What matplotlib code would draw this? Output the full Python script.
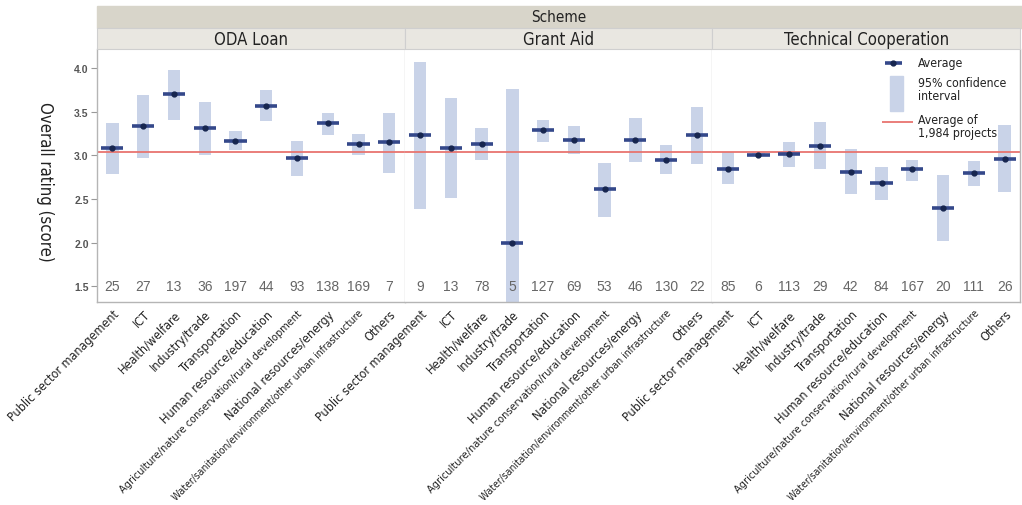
import numpy as np
import matplotlib
matplotlib.use("Agg")
import matplotlib.pyplot as plt
from matplotlib.patches import Rectangle
from matplotlib import font_manager as fm

# dane
categories = ["Public sector management", "ICT", "Health/welfare", "Industry/trade",
              "Transportation", "Human resource/education",
              "Agriculture/nature conservation/rural development",
              "National resources/energy",
              "Water/sanitation/environment/other urban infrastructure", "Others"]
schemes = ["ODA Loan", "Grant Aid", "Technical Cooperation"]

oda_avg = [3.08, 3.34, 3.70, 3.31, 3.17, 3.57, 2.97, 3.37, 3.13, 3.15]
oda_low = [2.79, 2.97, 3.41, 3.00, 3.06, 3.39, 2.77, 3.23, 3.00, 2.80]
oda_high = [3.37, 3.69, 3.98, 3.61, 3.28, 3.75, 3.16, 3.49, 3.25, 3.49]
oda_n = [25, 27, 13, 36, 197, 44, 93, 138, 169, 7]

ga_avg = [3.23, 3.08, 3.13, 2.00, 3.29, 3.18, 2.61, 3.18, 2.95, 3.23]
ga_low = [2.39, 2.51, 2.95, 1.20, 3.15, 3.02, 2.30, 2.93, 2.79, 2.90]
ga_high = [4.07, 3.66, 3.31, 3.76, 3.41, 3.34, 2.91, 3.43, 3.12, 3.56]
ga_n = [9, 13, 78, 5, 127, 69, 53, 46, 130, 22]

tc_avg = [2.85, 3.01, 3.02, 3.11, 2.81, 2.68, 2.84, 2.40, 2.80, 2.96]
tc_low = [2.67, 2.99, 2.87, 2.84, 2.56, 2.49, 2.71, 2.02, 2.65, 2.58]
tc_high = [3.04, 3.03, 3.15, 3.38, 3.07, 2.87, 2.95, 2.78, 2.94, 3.35]
tc_n = [85, 6, 113, 29, 42, 84, 167, 20, 111, 26]

overall_avg = 3.04

avgs = [oda_avg, ga_avg, tc_avg]
lows = [oda_low, ga_low, tc_low]
highs = [oda_high, ga_high, tc_high]
counts = [oda_n, ga_n, tc_n]

# rozmiary czcionek etykiet (dlugie etykiety sa sciesnione)
label_sizes = [9, 9, 9, 9, 9, 9, 7.9, 9, 7.5, 9]


# szukamy waskiej czcionki (DejaVu Sans Condensed / Liberation Sans Narrow)
def waska_czcionka():
    for f in fm.fontManager.ttflist:
        if f.name == "Liberation Sans Narrow" and f.weight in (400, "normal") and f.style == "normal":
            return f.fname
    for f in fm.fontManager.ttflist:
        if "DejaVuSansCondensed.ttf" in f.fname:
            return f.fname
    return None


fpath = waska_czcionka()


def cond(size):
    if fpath:
        return fm.FontProperties(fname=fpath, size=size)
    return fm.FontProperties(family="DejaVu Sans", stretch="condensed", size=size)


W, H = 1022, 506
fig = plt.figure(figsize=(W / 100, H / 100), dpi=100)

ci_col = "#c9d3e8"
avg_col = "#34488a"
dot_col = "#17264f"
red_col = "#e8746f"
edge_col = "#b5b5b5"

left_px, right_px = 97, 1020
top_px, bot_px = 50, 303
pw = (right_px - left_px) / 3

axes = []
for i in range(3):
    ax = fig.add_axes([(left_px + i * pw) / W, 1 - bot_px / H, pw / W, (bot_px - top_px) / H])
    x = np.arange(len(categories))
    lo = np.array(lows[i])
    hi = np.array(highs[i])
    ax.bar(x, hi - lo, bottom=lo, width=0.4, color=ci_col, zorder=1)
    ax.hlines(avgs[i], x - 0.36, x + 0.36, color=avg_col, lw=2.6, zorder=3)
    ax.plot(x, avgs[i], "o", color=dot_col, ms=3.5, zorder=4)
    ax.axhline(overall_avg, color=red_col, lw=1.3, zorder=2)
    for xi, n in zip(x, counts[i]):
        ax.text(xi, 1.5, str(n), ha="center", va="center", fontsize=10,
                color="#666666", family="Liberation Sans", zorder=5)
    ax.set_xlim(-0.5, 9.5)
    ax.set_ylim(1.32, 4.22)
    ax.set_xticks(x)
    ax.set_xticklabels(categories, rotation=45, ha="right", rotation_mode="anchor")
    for lab, fs in zip(ax.get_xticklabels(), label_sizes):
        lab.set_fontproperties(cond(fs))
        lab.set_color("#222222")
    ax.tick_params(axis="x", length=0, pad=4)
    for s in ax.spines.values():
        s.set_color(edge_col)
        s.set_linewidth(1.0)
    ax.spines["top"].set_visible(False)
    if i > 0:
        ax.set_yticks([])
        ax.spines["left"].set_visible(False)
    if i < 2:
        ax.spines["right"].set_color("#d0d0d0")
    axes.append(ax)

ax0 = axes[0]
ax0.set_yticks([1.5, 2.0, 2.5, 3.0, 3.5, 4.0])
ax0.set_yticklabels(["1.5", "2.0", "2.5", "3.0", "3.5", "4.0"],
                    family="Liberation Sans", fontweight="bold", fontsize=7.5, color="#555555")
ax0.tick_params(axis="y", length=4, color="#999999", pad=2)
fig.text(45 / W, 1 - 182 / H, "Overall rating (score)", rotation=270, ha="center", va="center",
         fontproperties=cond(12), color="#222222")

# naglowki paneli
fig.patches.append(Rectangle((left_px / W, 1 - 29 / H), (right_px + 2 - left_px) / W, 22 / H,
                             transform=fig.transFigure, color="#d8d5ca", zorder=0))
fig.text((left_px + right_px) / 2 / W, 1 - 18 / H, "Scheme", ha="center", va="center",
         fontproperties=cond(11), color="#222222")
for i, name in enumerate(schemes):
    x0 = left_px + i * pw
    fig.patches.append(Rectangle((x0 / W, 1 - top_px / H), pw / W, 21 / H,
                                 transform=fig.transFigure, facecolor="#e9e7e1",
                                 edgecolor="#cfcfcf", lw=0.8, zorder=0))
    fig.text((x0 + pw / 2) / W, 1 - 40 / H, name, ha="center", va="center",
             fontproperties=cond(12), color="#222222")

# legenda
ax2 = axes[2]
ax2.hlines(4.06, 5.1, 5.66, color=avg_col, lw=2.6, zorder=3)
ax2.plot([5.38], [4.06], "o", color=dot_col, ms=3.5, zorder=4)
ax2.add_patch(Rectangle((5.27, 3.51), 0.42, 0.40, color=ci_col, zorder=1))
ax2.hlines(3.38, 5.0, 6.01, color=red_col, lw=1.3, zorder=3)
ax2.text(6.18, 4.07, "Average", va="center", fontproperties=cond(8.8), color="#222222")
ax2.text(6.18, 3.76, "95% confidence\ninterval", va="center", fontproperties=cond(8.8),
         color="#222222", linespacing=0.95)
ax2.text(6.18, 3.34, "Average of\n1,984 projects", va="center", fontproperties=cond(8.8),
         color="#222222", linespacing=0.95)

fig.savefig("out.png", dpi=100)
